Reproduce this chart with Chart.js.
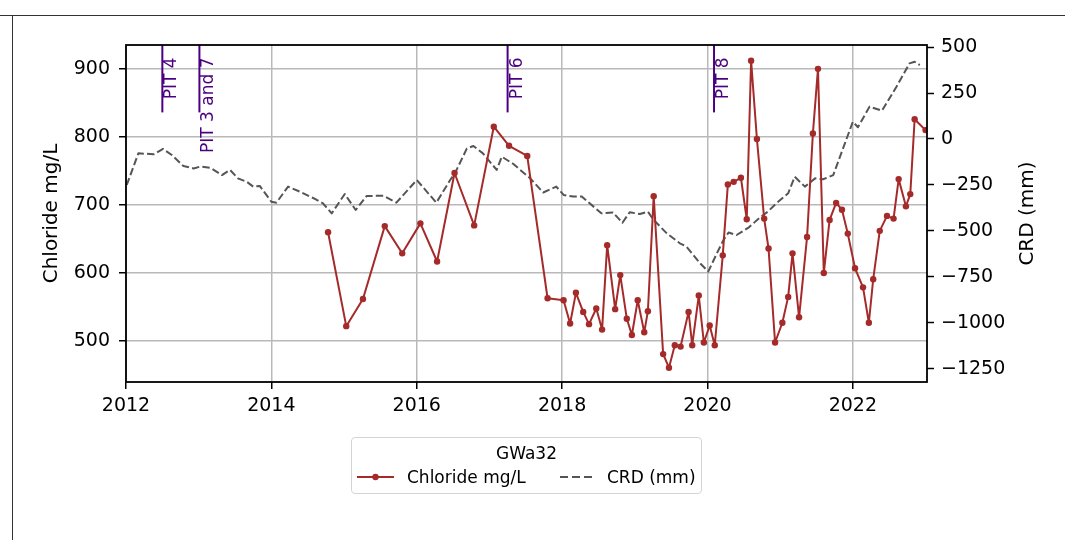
<!DOCTYPE html>
<html>
<head>
<meta charset="utf-8">
<script src="https://cdn.jsdelivr.net/npm/chart.js@4.4.0/dist/chart.umd.min.js"></script>
<style>
  html, body { margin: 0; padding: 0; background: #fff; }
  body { width: 1065px; height: 540px; position: relative; overflow: hidden; font-family: 'DejaVu Sans', sans-serif; }
  #c { position: absolute; left: 0; top: 0; }
  .hline { position: absolute; left: 0; top: 14.5px; width: 1065px; border-top: 1.5px solid #333; }
  .vline { position: absolute; left: 11.5px; top: 14.5px; height: 526px; border-left: 1.5px solid #333; }
  #legend { position: absolute; left: 351px; top: 437px; width: 351px; height: 57px; box-sizing: border-box;
            border: 1px solid #d4d4d4; border-radius: 4px; background: #fff; font-size: 17px; color: #000; }
  #legend .t { position: absolute; left: 0; width: 100%; top: 5px; line-height: 20px; text-align: center; }
  #legend .s { position: absolute; top: 34px; }
  #legend .l { position: absolute; top: 29px; line-height: 20px; white-space: nowrap; }
</style>
</head>
<body>
<canvas id="c" width="1065" height="540"></canvas>
<div class="hline"></div>
<div class="vline"></div>
<div id="legend">
  <div class="t">GWa32</div>
  <svg class="s" style="left:5px" width="37" height="10"><line x1="0" y1="5" x2="37" y2="5" stroke="#A52A2A" stroke-width="2"/><circle cx="18.5" cy="5" r="3.2" fill="#A52A2A"/></svg>
  <div class="l" style="left:55px">Chloride mg/L</div>
  <svg class="s" style="left:208px" width="32" height="10"><line x1="0" y1="5" x2="32" y2="5" stroke="#555" stroke-width="2" stroke-dasharray="8 4"/></svg>
  <div class="l" style="left:255px">CRD (mm)</div>
</div>
<script>
// GWa32 chloride concentration and cumulative rainfall departure

const chlorideYears = [
  2014.78, 2015.03, 2015.26, 2015.56, 2015.80, 2016.05, 2016.28, 2016.52, 2016.79, 2017.06,
  2017.27, 2017.52, 2017.80, 2018.02, 2018.11, 2018.19, 2018.29, 2018.37, 2018.47, 2018.55,
  2018.62, 2018.73, 2018.80, 2018.89, 2018.96, 2019.04, 2019.13, 2019.18, 2019.26, 2019.39,
  2019.47, 2019.55, 2019.63, 2019.74, 2019.79, 2019.88, 2019.95, 2020.03, 2020.10, 2020.21,
  2020.28, 2020.36, 2020.46, 2020.54, 2020.60, 2020.68, 2020.78, 2020.84, 2020.93, 2021.03,
  2021.11, 2021.17, 2021.26, 2021.37, 2021.45, 2021.52, 2021.60, 2021.68, 2021.77, 2021.85,
  2021.93, 2022.03, 2022.14, 2022.22, 2022.28, 2022.37, 2022.47, 2022.56, 2022.63, 2022.73,
  2022.79, 2022.85, 2023.00
];
const chlorideValues = [
  660, 522, 562, 669, 629, 673, 617, 747, 670, 815,
  787, 772, 563, 560, 526, 571, 543, 525, 548, 517,
  641, 547, 597, 533, 509, 560, 513, 544, 713, 481,
  461, 494, 492, 543, 494, 567, 498, 523, 494, 626,
  730, 734, 740, 679, 912, 797, 680, 636, 498, 527,
  565, 629, 535, 653, 805, 900, 600, 678, 703, 693,
  658, 607, 579, 527, 591, 662, 684, 680, 738, 698,
  716, 826, 810
];

const crdYears = [
  2012.01, 2012.17, 2012.38, 2012.51, 2012.63, 2012.79, 2012.93, 2013.02, 2013.16, 2013.32,
  2013.43, 2013.54, 2013.66, 2013.75, 2013.84, 2014.00, 2014.07, 2014.23, 2014.39, 2014.58,
  2014.71, 2014.83, 2015.01, 2015.16, 2015.31, 2015.54, 2015.72, 2016.00, 2016.27, 2016.46,
  2016.53, 2016.69, 2016.78, 2016.91, 2017.10, 2017.17, 2017.33, 2017.56, 2017.74, 2017.92,
  2018.02, 2018.15, 2018.27, 2018.54, 2018.70, 2018.83, 2018.93, 2019.07, 2019.18, 2019.25,
  2019.44, 2019.62, 2019.71, 2019.90, 2020.01, 2020.13, 2020.22, 2020.29, 2020.40, 2020.57,
  2020.72, 2020.83, 2020.96, 2021.11, 2021.20, 2021.34, 2021.48, 2021.59, 2021.73, 2021.84,
  2022.00, 2022.07, 2022.23, 2022.40, 2022.60, 2022.78, 2022.85, 2022.92
];
const crdValues = [
  -250, -78, -83, -54, -87, -147, -160, -150, -156, -196,
  -168, -214, -232, -259, -255, -341, -346, -259, -286, -322,
  -350, -404, -299, -386, -310, -308, -346, -223, -346, -223,
  -183, -51, -38, -78, -168, -96, -136, -214, -291, -259,
  -304, -313, -313, -404, -400, -455, -398, -408, -395, -436,
  -513, -567, -585, -676, -721, -621, -549, -508, -522, -480,
  -427, -395, -345, -295, -205, -259, -214, -219, -196, -78,
  94, 64, 176, 154, 284, 411, 420, 402
];

const xTicks = [2012, 2014, 2016, 2018, 2020, 2022];
const chlorideTicks = [500, 600, 700, 800, 900];
const crdTicks = [-1250, -1000, -750, -500, -250, 0, 250, 500];

const eventYears = [2012.50, 2013.01, 2017.25, 2020.09];
const eventLabels = ['PIT 4', 'PIT 3 and 7', 'PIT 6', 'PIT 8'];

const RED = '#A52A2A';
const GREY = '#555555';
const PIT_COLOR = '#4B0082';
const GRID = '#b9b9b9';
const TICK_FONT = { family: "'DejaVu Sans'", size: 19 };
const TITLE_FONT = { family: "'DejaVu Sans'", size: 20 };

Chart.defaults.font.family = "'DejaVu Sans'";
Chart.defaults.color = '#000';

function toPoints(xs, ys) {
  return xs.map((x, i) => ({ x, y: ys[i] }));
}

// frame around the plotting area
const frame = {
  id: 'frame',
  afterDraw(chart) {
    const { ctx, chartArea: a } = chart;
    ctx.save();
    ctx.strokeStyle = '#000';
    ctx.lineWidth = 1.8;
    ctx.strokeRect(a.left, a.top, a.right - a.left, a.bottom - a.top);
    ctx.restore();
  }
};

// vertical PIT markers hanging from the top of the plot
const pitMarkers = {
  id: 'pitMarkers',
  afterDatasetsDraw(chart) {
    const { ctx, chartArea: a } = chart;
    const x = chart.scales.x;
    ctx.save();
    ctx.strokeStyle = PIT_COLOR;
    ctx.fillStyle = PIT_COLOR;
    ctx.lineWidth = 2;
    ctx.font = "17px 'DejaVu Sans'";
    ctx.textAlign = 'right';
    ctx.textBaseline = 'alphabetic';
    eventYears.forEach((yr, i) => {
      const px = x.getPixelForValue(yr);
      ctx.beginPath();
      ctx.moveTo(px, a.top);
      ctx.lineTo(px, a.top + (a.bottom - a.top) * 0.2);
      ctx.stroke();
      ctx.save();
      ctx.translate(px + 14, a.top + 12.5);
      ctx.rotate(-Math.PI / 2);
      ctx.fillText(eventLabels[i], 0, 0);
      ctx.restore();
    });
    ctx.restore();
  }
};

// right axis title, reading bottom to top like the left one
const rightTitle = {
  id: 'rightTitle',
  afterDraw(chart) {
    const { ctx, chartArea: a } = chart;
    ctx.save();
    ctx.font = "20px 'DejaVu Sans'";
    ctx.fillStyle = '#000';
    ctx.textAlign = 'center';
    ctx.textBaseline = 'middle';
    ctx.translate(a.right + 101, (a.top + a.bottom) / 2);
    ctx.rotate(-Math.PI / 2);
    ctx.fillText('CRD (mm)', 0, 0);
    ctx.restore();
  }
};

new Chart(document.getElementById('c'), {
  type: 'line',
  data: {
    datasets: [
      {
        label: 'Chloride mg/L',
        data: toPoints(chlorideYears, chlorideValues),
        yAxisID: 'y',
        borderColor: RED,
        backgroundColor: RED,
        borderWidth: 2,
        borderJoinStyle: 'round',
        pointRadius: 3.2,
        pointBorderWidth: 0,
        pointBackgroundColor: RED,
        tension: 0
      },
      {
        label: 'CRD (mm)',
        data: toPoints(crdYears, crdValues),
        yAxisID: 'y1',
        borderColor: GREY,
        borderWidth: 2,
        borderJoinStyle: 'round',
        borderDash: [7.4, 3.2],
        pointRadius: 0,
        tension: 0
      }
    ]
  },
  options: {
    responsive: false,
    animation: false,
    layout: { padding: { top: 45, left: 0, right: 0, bottom: 0 } },
    plugins: { legend: { display: false }, tooltip: { enabled: false } },
    scales: {
      x: {
        type: 'linear',
        position: 'bottom',
        min: 2012,
        max: 2023.02,
        afterBuildTicks: s => { s.ticks = xTicks.map(v => ({ value: v })); },
        afterFit: s => { s.height = 158; },
        ticks: { font: TICK_FONT, padding: 6, maxRotation: 0, callback: v => String(v) },
        grid: { color: GRID, lineWidth: 1.5, tickColor: '#000', tickWidth: 1.5, tickLength: 7 },
        border: { display: false }
      },
      y: {
        type: 'linear',
        position: 'left',
        min: 440,
        max: 935,
        afterBuildTicks: s => { s.ticks = chlorideTicks.map(v => ({ value: v })); },
        afterFit: s => { s.width = 126; },
        ticks: { font: TICK_FONT, padding: 9, callback: v => String(v) },
        grid: { color: GRID, lineWidth: 1.5, tickColor: '#000', tickWidth: 1.5, tickLength: 7 },
        border: { display: false },
        title: { display: true, text: 'Chloride mg/L', font: TITLE_FONT, padding: { top: 39.5, bottom: 0 } }
      },
      y1: {
        type: 'linear',
        position: 'right',
        min: -1321,
        max: 511,
        afterBuildTicks: s => { s.ticks = crdTicks.map(v => ({ value: v })); },
        afterFit: s => { s.width = 138; },
        ticks: { font: TICK_FONT, padding: 7, callback: v => String(v).replace('-', '\u2212') },
        grid: { drawOnChartArea: false, tickColor: '#000', tickWidth: 1.5, tickLength: 7 },
        border: { display: false }
      }
    }
  },
  plugins: [pitMarkers, frame, rightTitle]
});
</script>
</body>
</html>
